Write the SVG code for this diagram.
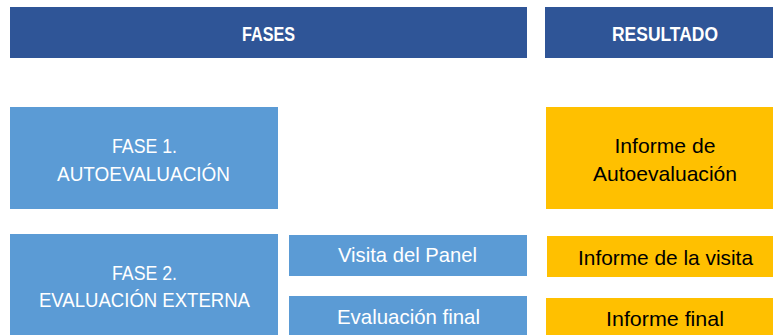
<svg xmlns="http://www.w3.org/2000/svg" width="773" height="335" viewBox="0 0 773 335">
<style>
.hdr{fill:#2F5597}
.ph{fill:#5B9BD5}
.res{fill:#FFC000}
.ht{font-family:"Liberation Sans",Arial,sans-serif;font-weight:bold;font-size:19.5px;fill:#fff;text-anchor:middle}
.wt{font-family:"Liberation Sans",Arial,sans-serif;font-size:21px;fill:#fff;text-anchor:middle}
.bt{font-family:"Liberation Sans",Arial,sans-serif;font-size:21px;fill:#000;text-anchor:middle}
</style>
<rect width="773" height="335" fill="#fff"/>
<g id="hdr-fases"><rect class="hdr" x="10" y="7" width="517" height="51"/><text class="ht" x="268.5" y="41" textLength="53" lengthAdjust="spacingAndGlyphs">FASES</text></g>
<g id="hdr-resultado"><rect class="hdr" x="545" y="7" width="228" height="51"/><text class="ht" x="665" y="41" textLength="106" lengthAdjust="spacingAndGlyphs">RESULTADO</text></g>
<g id="fase1"><rect class="ph" x="10" y="107" width="268" height="102"/><text class="wt" x="144.5" y="153" textLength="65" lengthAdjust="spacingAndGlyphs">FASE 1.</text><text class="wt" x="143.5" y="181" textLength="173" lengthAdjust="spacingAndGlyphs">AUTOEVALUACIÓN</text></g>
<g id="fase2"><rect class="ph" x="10" y="234" width="268" height="101"/><text class="wt" x="144.5" y="280" textLength="65" lengthAdjust="spacingAndGlyphs">FASE 2.</text><text class="wt" x="144.5" y="307" textLength="211" lengthAdjust="spacingAndGlyphs">EVALUACIÓN EXTERNA</text></g>
<g id="visita"><rect class="ph" x="289" y="235" width="238" height="41"/><text class="wt" x="407.5" y="262" textLength="139" lengthAdjust="spacingAndGlyphs">Visita del Panel</text></g>
<g id="evalfinal"><rect class="ph" x="289" y="296" width="238" height="39"/><text class="wt" x="408.5" y="324" textLength="143" lengthAdjust="spacingAndGlyphs">Evaluación final</text></g>
<g id="inf-auto"><rect class="res" x="546" y="107" width="227" height="102"/><text class="bt" x="665" y="153" textLength="101" lengthAdjust="spacingAndGlyphs">Informe de</text><text class="bt" x="665" y="181" textLength="144" lengthAdjust="spacingAndGlyphs">Autoevaluación</text></g>
<g id="inf-visita"><rect class="res" x="547" y="236" width="226" height="41"/><text class="bt" x="665.5" y="265" textLength="175" lengthAdjust="spacingAndGlyphs">Informe de la visita</text></g>
<g id="inf-final"><rect class="res" x="546" y="298" width="227" height="37"/><text class="bt" x="665" y="326" textLength="118" lengthAdjust="spacingAndGlyphs">Informe final</text></g>
<g id="connectors"></g>
</svg>
